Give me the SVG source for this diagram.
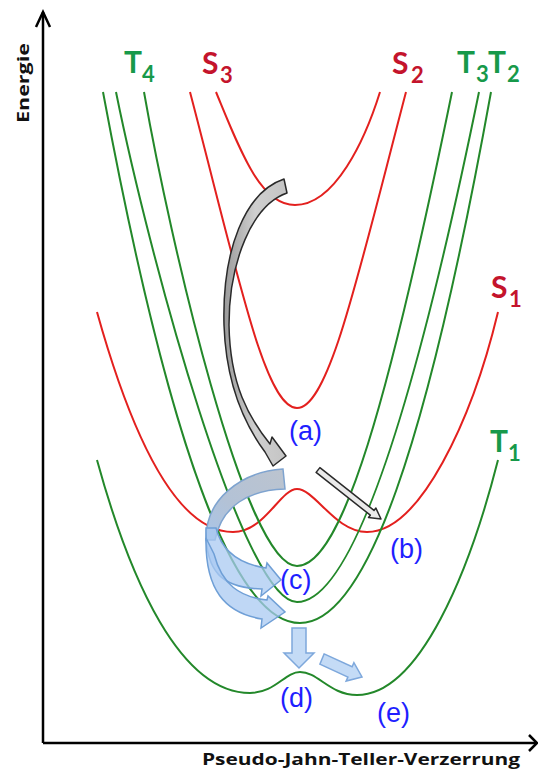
<svg xmlns="http://www.w3.org/2000/svg" width="538" height="771" viewBox="0 0 538 771">
<defs>
<style>
.red{fill:none;stroke:#e3201e;stroke-width:2}
.grn{fill:none;stroke:#23882a;stroke-width:2}
.axis{fill:none;stroke:#000;stroke-width:2.5}
.lblR{font-family:Lato,"Open Sans",sans-serif;font-weight:bold;fill:#c4142c}
.lblG{font-family:Lato,"Open Sans",sans-serif;font-weight:bold;fill:#17994a}
.big{font-size:30px}
.sub{font-size:22px}
.ax{font-family:"Open Sans",sans-serif;font-weight:bold;font-size:16px;fill:#111}
.pt{font-family:"Liberation Sans",Arial,sans-serif;font-size:27px;fill:#1f1fff}
.blue{fill:#a9c9f2;fill-opacity:0.75;stroke:#6f9fd6;stroke-width:1.5}
.sblue{fill:#c4dbf6;stroke:#7ea8dc;stroke-width:1.5}
</style>
<linearGradient id="topband" x1="1" y1="0" x2="0" y2="1">
<stop offset="0" stop-color="#bcc4cf"/>
<stop offset="0.6" stop-color="#b3c2d6"/>
<stop offset="1" stop-color="#a9c5e8"/>
</linearGradient>
<linearGradient id="grayArr" x1="0" y1="0" x2="1" y2="0">
<stop offset="0" stop-color="#9a9a9a"/>
<stop offset="0.5" stop-color="#cfcfcf"/>
<stop offset="1" stop-color="#c4c4c4"/>
</linearGradient>
</defs>
<rect width="538" height="771" fill="#fff"/>

<g id="axes">
<path class="axis" d="M43,743 L43,12"/>
<path class="axis" d="M43,743 L536,743"/>
<polyline class="axis" points="36,27 43,12 50,27"/>
<polyline class="axis" points="529,735 537,743 529,751"/>
<text class="ax" transform="translate(29,83) rotate(-90)" text-anchor="middle" textLength="80" lengthAdjust="spacingAndGlyphs">Energie</text>
<text class="ax" x="202" y="765" textLength="318" lengthAdjust="spacingAndGlyphs">Pseudo-Jahn-Teller-Verzerrung</text>
</g>

<g id="curves">
<g id="S3"><path class="red" d="M216,92 C240,150 260,205 295,205 C335,205 365,140 380,92"/></g>
<g id="S2"><path class="red" d="M190,92 C238,275 265,408 297,408 C329,408 358,275 406,92"/></g>
<g id="S1"><path class="red" d="M97,312 C130,430 175,532 233,532 C265,532 280,489 297,489 C315,489 335,532 367,532 C420,532 472,420 498,312"/></g>
<g id="T4"><path class="grn" d="M144,92 C170,240 245,566 297,566 C342,566 389,400 452,92"/></g>
<g id="T3"><path class="grn" d="M116,92 C150,260 243,602 297,602 C351,602 412,420 479,92"/></g>
<g id="T2"><path class="grn" d="M103,92 C169,446 234,623 300,623 C366,623 427,446 491,92"/></g>
<g id="T1"><path class="grn" d="M97,460 C130,580 180,693 250,693 C275,693 285,672 300,672 C318,672 330,695 357,695 C420,695 470,570 498,460"/></g>
</g>

<g id="labels">
<text class="lblG big" x="124" y="73">T</text><text class="lblG sub" x="142" y="82">4</text>
<text class="lblR big" x="202" y="74">S</text><text class="lblR sub" x="220" y="83">3</text>
<text class="lblR big" x="392" y="74">S</text><text class="lblR sub" x="411" y="83">2</text>
<text class="lblG big" x="457" y="73">T</text><text class="lblG sub" x="476" y="82">3</text>
<text class="lblG big" x="488" y="73">T</text><text class="lblG sub" x="507" y="82">2</text>
<text class="lblR big" x="491" y="298">S</text><text class="lblR sub" x="509" y="307">1</text>
<text class="lblG big" x="490" y="452">T</text><text class="lblG sub" x="508" y="461">1</text>
</g>

<g id="connectors">
<path id="arrow-gray" d="M284,179 C245,192 222,250 224,325 C226,385 245,425 265,452 L273,466 L286,456 L272,437 L270,444 C249,418 230,385 229,325 C229,262 252,205 287,193 Z" fill="url(#grayArr)" stroke="#2a2a2a" stroke-width="1.5" stroke-linejoin="round"/>
<polygon id="arrow-b" points="319.9,467.6 374.0,510.4 375.9,508.1 381,519 368.5,517.5 370.3,515.2 316.1,472.4" fill="#eaeaea" stroke="#2a2a2a" stroke-width="1.5" stroke-linejoin="round"/>
<path id="arrow-top" d="M283,469 L285,489 C250,490 222,505 215,540 L206,540 C205,500 240,472 283,469 Z" fill="url(#topband)" stroke="#7ea3cf" stroke-width="1.5"/>
<path id="arrow-c1" class="blue" d="M206,528 C205,572 222,588 262,589 L261,596 L281,580 L267,563 L266,568 C240,564 222,552 216,528 Z"/>
<path id="arrow-c2" class="blue" d="M206,538 C205,590 225,613 262,619 L261,628 L285,612 L268,596 L267,600 C240,597 222,585 214,554 Z"/>
<polygon id="arrow-d" class="sblue" points="292,628 306,628 306,653 314,653 299,668 284,653 292,653"/>
<polygon id="arrow-e" class="sblue" points="324.1,653.9 352.1,666.8 353.9,662.7 362,677 346.1,681.1 347.9,677.0 319.9,664.1"/>
</g>

<g id="points">
<text class="pt" x="289" y="440">(a)</text>
<text class="pt" x="390" y="558">(b)</text>
<text class="pt" x="280" y="589">(c)</text>
<text class="pt" x="280" y="707">(d)</text>
<text class="pt" x="377" y="722">(e)</text>
</g>
</svg>
